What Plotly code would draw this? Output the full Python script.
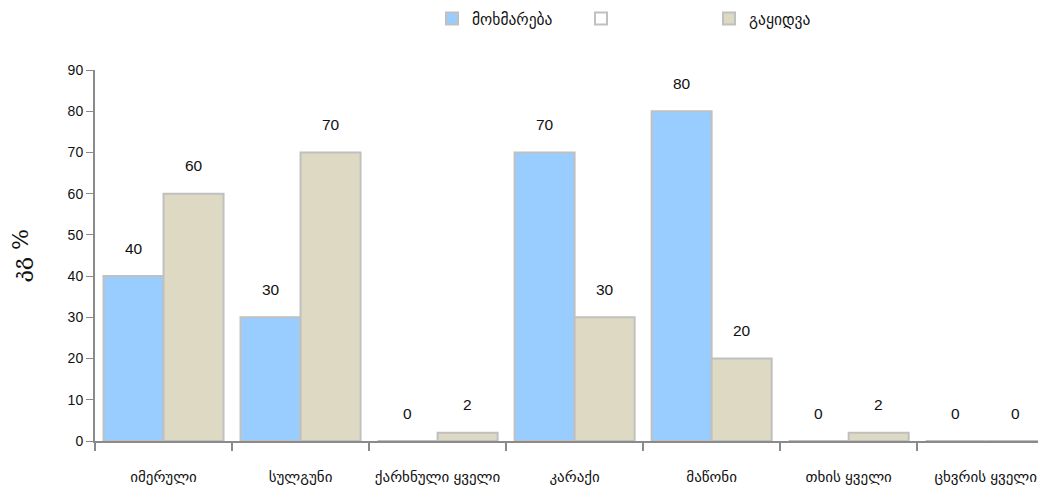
import plotly.graph_objects as go

categories = ["იმერული", "სულგუნი", "ქარხნული ყველი", "კარაქი", "მაწონი", "თხის ყველი", "ცხვრის ყველი"]
consumption = [40, 30, 0, 70, 80, 0, 0]
sales = [60, 70, 2, 30, 20, 2, 0]
series_names = ["მოხმარება", "", "გაყიდვა"]
y_title = "კგ %"
y_ticks = [0, 10, 20, 30, 40, 50, 60, 70, 80, 90]

BLUE = "#99ccff"
BEIGE = "#ddd9c3"
EDGE = "#c0c0c0"
AXIS = "#8a8a8a"
FONT = "Arial, Liberation Sans, DejaVu Sans, sans-serif"

W = 0.438  # bar width in category units

fig = go.Figure()
fig.add_trace(go.Bar(
    x=categories, y=consumption, name=series_names[0],
    width=W, offset=-W, marker=dict(color=BLUE, line=dict(color=EDGE, width=2)),
    legend="legend", hoverinfo="y",
))
fig.add_trace(go.Bar(
    x=[categories[0]], y=[None], name=series_names[1] if series_names[1] else " ",
    width=W, offset=0,
    marker=dict(color="white", line=dict(color=EDGE, width=2)),
    legend="legend2", showlegend=True, hoverinfo="skip",
))
fig.add_trace(go.Bar(
    x=categories, y=sales, name=series_names[2],
    width=W, offset=0, marker=dict(color=BEIGE, line=dict(color=EDGE, width=2)),
    legend="legend3", hoverinfo="y",
))

annotations = []
for i, v in enumerate(consumption):
    annotations.append(dict(x=i - W / 2, y=v, xref="x", yref="y", text=str(v),
                            showarrow=False, yshift=28, font=dict(size=15.5, color="#111", family=FONT)))
for i, v in enumerate(sales):
    annotations.append(dict(x=i + W / 2, y=v, xref="x", yref="y", text=str(v),
                            showarrow=False, yshift=28, font=dict(size=15.5, color="#111", family=FONT)))

legend_common = dict(orientation="h", xanchor="left", yanchor="middle", yref="container",
                     bgcolor="rgba(0,0,0,0)", font=dict(size=15.5, color="#111", family=FONT),
                     itemclick=False, itemdoubleclick=False)
FIG_W, FIG_H = 1038, 481
LY = 1 - 11 / FIG_H

fig.update_layout(
    width=FIG_W, height=FIG_H,
    margin=dict(l=87, r=0, t=62, b=48, autoexpand=False),
    paper_bgcolor="white", plot_bgcolor="white",
    barmode="overlay",
    font=dict(family=FONT, size=13, color="#222"),
    annotations=annotations,
    showlegend=True,
    legend=dict(x=(432 - 95) / 951, y=LY, **legend_common),
    legend2=dict(x=(581 - 95) / 951, y=LY, **legend_common),
    legend3=dict(x=(709 - 95) / 951, y=LY, **legend_common),
    xaxis=dict(
        type="category", categoryorder="array", categoryarray=categories,
        range=[-0.5, 6.44], tickson="boundaries", tickangle=0,
        showline=True, linecolor=AXIS, linewidth=2,
        ticks="outside", ticklen=8, tickcolor=AXIS, tickwidth=2,
        showgrid=False, zeroline=False, automargin=False,
        tickfont=dict(size=15, color="#111", family=FONT),
        ticklabelstandoff=21,
    ),
    yaxis=dict(
        range=[0, 90], tickvals=y_ticks,
        showline=True, linecolor=AXIS, linewidth=2,
        ticks="outside", ticklen=7, tickcolor=AXIS, tickwidth=1,
        showgrid=False, zeroline=False, automargin=False,
        tickfont=dict(size=14, color="#111", family=FONT),
        title=dict(text=y_title, font=dict(size=22, color="#111", family="DejaVu Serif, serif"), standoff=38),
    ),
)

fig.write_html("out.html")
